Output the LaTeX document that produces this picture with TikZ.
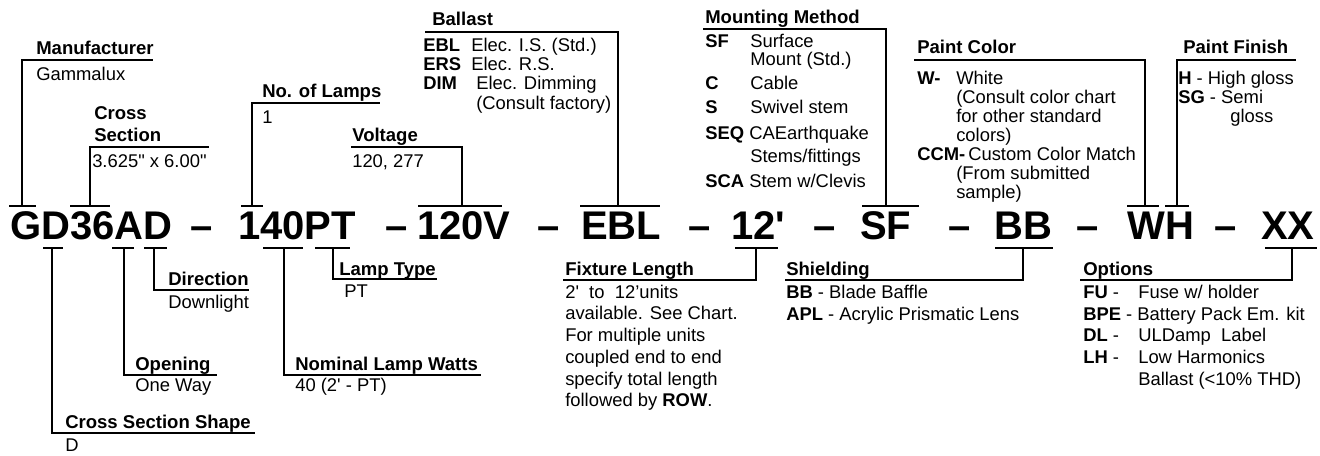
\documentclass[tikz,border=0pt]{standalone}
\usepackage{fontspec}
\setmainfont{Liberation Sans}
\usepackage{tikz}
\usetikzlibrary{positioning}

\newcommand{\codeFont}{\fontsize{30}{36}\selectfont\bfseries}
\newcommand{\headFont}{\fontsize{13.9}{16}\selectfont\bfseries}
\newcommand{\bodyFont}{\fontsize{13.8}{16}\selectfont}
\newcommand{\lowFont}{\fontsize{13.8}{17}\selectfont}

\tikzset{
  code/.style={font=\codeFont, anchor=base west, inner sep=0pt},
  head/.style={font=\headFont, anchor=base west, inner sep=0pt},
  body/.style={font=\bodyFont, anchor=base west, inner sep=0pt},
  bkey/.style={font=\bodyFont\bfseries, anchor=base west, inner sep=0pt},
  low/.style={font=\lowFont, anchor=base west, inner sep=0pt},
  link/.style={line width=1.5pt},
}

\begin{document}
\begin{tikzpicture}[x=0.75pt, y=-0.75pt]
\useasboundingbox (0,0) rectangle (1320,456);
\fill[white] (0,0) rectangle (1320,456);

% catalogue number
\foreach \px/\txt [count=\i] in {10/GD36AD, 190/–, 238/140PT, 385/–, 417/120V, 537/–,
    581/EBL, 688/–, 731/12\textquotesingle, 813/–, 860/SF, 948/–, 994/BB, 1076/–, 1127/WH, 1214/–, 1261/XX}
  \node[code] (c\i) at (\px,239) {\txt};

% bars above the number
\foreach \xa/\xb/\xv/\n in {9/36/22/tG, 70/110/90/tX, 241/263/252/tN, 418/502/462/tV,
    580/660/618/tB, 862/919/886/tM, 1127/1159/1145/tW, 1165/1189/1177/tH}{
  \draw[link] (\xa,206) -- (\xb,206);
  \coordinate (\n) at (\xv,206);
}
% bars below the number
\foreach \xa/\xb/\xv/\n in {43/63/52/bS, 112/134/124/bO, 144/167/154/bD, 263/303/284/bW,
    315/350/333/bL, 735/778/756/bF, 995/1053/1023/bB, 1265/1317/1292/bX}{
  \draw[link] (\xa,248) -- (\xb,248);
  \coordinate (\n) at (\xv,248);
}

% ends of the heading rules
\coordinate (uMan) at (153,60);
\coordinate (uCro) at (209,147);
\coordinate (uLam) at (380,103);
\coordinate (uVol) at (351,147);
\coordinate (uBal) at (425,32);
\coordinate (uMou) at (703,29);
\coordinate (uCol) at (914,60);
\coordinate (uFin) at (1296,60);
\coordinate (uSha) at (255,433);
\coordinate (uOpe) at (217,375);
\coordinate (uDir) at (249,290);
\coordinate (uNom) at (481,375);
\coordinate (uTyp) at (437,279);
\coordinate (uLen) at (563,280);
\coordinate (uShi) at (785,280);
\coordinate (uOpt) at (1080,280);

\foreach \b/\u in {tG/uMan, tX/uCro, tN/uLam, tV/uVol, tB/uBal, tM/uMou, tW/uCol, tH/uFin,
    bS/uSha, bO/uOpe, bD/uDir, bW/uNom, bL/uTyp, bF/uLen, bB/uShi, bX/uOpt}
  \draw[link] (\b) |- (\u);

% upper labels
\node[head] (hMan) at (36,55) {Manufacturer};
\node[body] (vMan) at (36,81) {Gammalux};
\node[head] (hCro) at (94,120) {Cross};
\node[head] (hCro2) at (94,142) {Section};
\node[body] (vCro) at (92,168) {3.625\textquotedbl{} x 6.00\textquotedbl};
\node[head] (hLam) at (262,98) {No. of Lamps};
\node[body] (vLam) at (262,124) {1};
\node[head] (hVol) at (352,142) {Voltage};
\node[body] (vVol) at (352,168) {120, 277};

\node[head] (hBal) at (432,26) {Ballast};
\foreach \k/\y [count=\i] in {EBL/52, ERS/71, DIM/90}
  \node[bkey] (kBal\i) at (423,\y) {\k};
\foreach \d/\px/\y [count=\i] in {{Elec. I.S. (Std.)}/471/52, {Elec. R.S.}/471/71,
    {Elec. Dimming}/476/90, {(Consult factory)}/476/110}
  \node[body] (dBal\i) at (\px,\y) {\d};

\node[head] (hMou) at (705,24) {Mounting Method};
\foreach \k/\y [count=\i] in {SF/48, C/90, S/114, SEQ/140, SCA/188}
  \node[bkey] (kMou\i) at (705,\y) {\k};
\foreach \d/\px/\y [count=\i] in {Surface/750/48, {Mount (Std.)}/750/66, Cable/750/90,
    {Swivel stem}/750/114, CAEarthquake/749/140, {Stems/fittings}/750/162, {Stem w/Clevis}/749/188}
  \node[body] (dMou\i) at (\px,\y) {\d};

\node[head] (hCol) at (917,54) {Paint Color};
\node[bkey] (kCol1) at (917,85) {W-};
\node[bkey] (kCol2) at (917,161) {CCM-};
\foreach \d/\px/\y [count=\i] in {White/956/85, {(Consult color chart}/956/104,
    {for other standard}/956/123, {colors)}/956/142, {Custom Color Match}/968/161,
    {(From submitted}/956/180, {sample)}/956/199}
  \node[body] (dCol\i) at (\px,\y) {\d};

\node[head] (hFin) at (1183,54) {Paint Finish};
\node[body] (dFin1) at (1178,85) {\textbf{H} - High gloss};
\node[body] (dFin2) at (1178,104) {\textbf{SG} - Semi};
\node[body] (dFin3) at (1230,123) {gloss};

% lower labels
\node[head] (hTyp) at (339,275) {Lamp Type};
\node[body] (vTyp) at (344,297) {PT};
\node[head] (hDir) at (168,285) {Direction};
\node[body] (vDir) at (168,308) {Downlight};
\node[head] (hOpe) at (135,370) {Opening};
\node[body] (vOpe) at (135,391) {One Way};
\node[head] (hNom) at (295,370) {Nominal Lamp Watts};
\node[body] (vNom) at (295,391) {40 (2\textquotesingle\ - PT)};
\node[head] (hSha) at (65,428) {Cross Section Shape};
\node[body] (vSha) at (65,451) {D};

\node[head] (hLen) at (565,275) {Fixture Length};
\foreach \d [count=\i] in {2\textquotesingle\ \ to\ \ 12’units, available. See Chart.,
    For multiple units, coupled end to end, specify total length, followed by \textbf{ROW}.}
  \node[low] (dLen\i) at (565,276.5+21.7*\i) {\d};

\node[head] (hShi) at (786,275) {Shielding};
\node[low] (dShi1) at (786,298) {\textbf{BB} - Blade Baffle};
\node[low] (dShi2) at (786,320) {\textbf{APL} - Acrylic Prismatic Lens};

\node[head] (hOpt) at (1083,275) {Options};
\node[low] (kOpt1) at (1083,298) {\textbf{FU} -};
\node[low] (dOpt2) at (1083,320) {\textbf{BPE} - Battery Pack Em. kit};
\node[low] (kOpt3) at (1083,341) {\textbf{DL} -};
\node[low] (kOpt4) at (1083,363) {\textbf{LH} -};
\foreach \d/\y in {{Fuse w/ holder}/298, {ULDamp\ \ Label}/341, {Low Harmonics}/363,
    {Ballast (<10\% THD)}/385}
  \node[low] (dOpt-\y) at (1138,\y) {\d};
\end{tikzpicture}
\end{document}
